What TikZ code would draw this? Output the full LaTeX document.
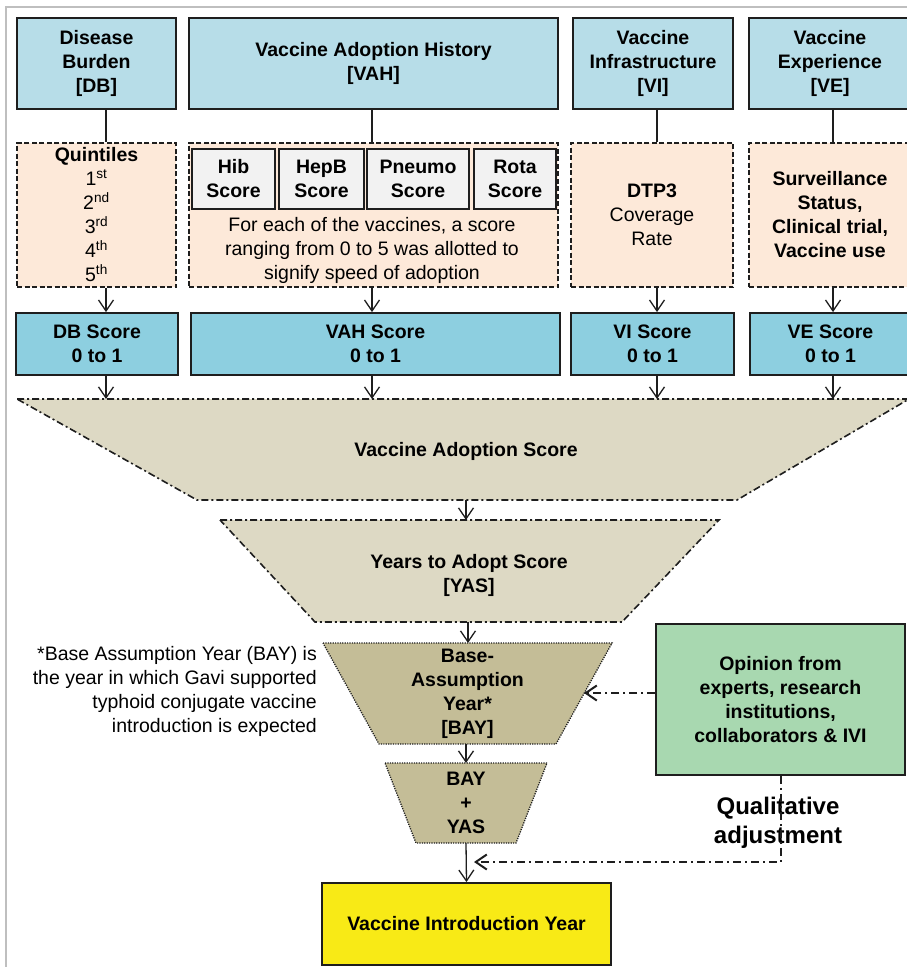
\documentclass[tikz,border=0pt]{standalone}
\usepackage{fontspec}
\setmainfont{Liberation Sans}
\usetikzlibrary{arrows.meta}

\definecolor{headblue}{HTML}{B7DDE8}
\definecolor{scoreblue}{HTML}{8DCFE0}
\definecolor{peach}{HTML}{FDE9D9}
\definecolor{subgray}{HTML}{F2F2F2}
\definecolor{tanlight}{HTML}{DDD9C4}
\definecolor{tandark}{HTML}{C4BD97}
\definecolor{opingreen}{HTML}{A8D8B0}
\definecolor{introyellow}{HTML}{F8EA16}
\definecolor{framegray}{HTML}{BFBFBF}
\definecolor{linegray}{HTML}{1E1E1E}

\newcommand{\diagfont}{\fontsize{19.5pt}{24pt}\selectfont}

\tikzset{
  headbox/.style={draw=linegray, line width=1.8pt, fill=headblue, align=center, font=\diagfont\bfseries, inner sep=0pt},
  notebox/.style={draw=linegray, line width=1.6pt, dash pattern=on 5pt off 2.5pt, fill=peach, align=center, font=\diagfont, inner sep=0pt},
  subbox/.style={draw=linegray, line width=1.8pt, fill=subgray, align=center, font=\diagfont\bfseries, inner sep=0pt},
  scorebox/.style={draw=linegray, line width=1.8pt, fill=scoreblue, align=center, font=\diagfont\bfseries, inner sep=0pt},
  conn/.style={draw=linegray, line width=1.3pt},
  funnel/.style={draw=linegray, line width=1.6pt, dash pattern=on 7pt off 3pt on 2pt off 3pt},
  dotfunnel/.style={draw=linegray, line width=1.3pt, dash pattern=on 1.2pt off 1.2pt},
  adjline/.style={draw=linegray, line width=2pt, dash pattern=on 8pt off 4pt on 2pt off 4pt},
}

\begin{document}
\begin{tikzpicture}[x=1pt, y=-1pt, >={Straight Barb[length=11pt,width=15pt]}]
  \useasboundingbox (0,0) rectangle (907,967);
  \clip (0,0) rectangle (907,967);
  \draw[framegray, line width=1.5pt] (6,967) -- (6,7) -- (907,7);

  % column lines
  \coordinate (colDB) at (106,0);
  \coordinate (colVAH) at (372,0);
  \coordinate (colVI) at (657,0);
  \coordinate (colVE) at (833,0);

  % header boxes
  \node[headbox, minimum width=159pt, minimum height=91pt] (db) at (96.5,63.5) {Disease\\Burden\\{[DB]}};
  \node[headbox, minimum width=369pt, minimum height=91pt] (vah) at (373.5,63.5) {Vaccine Adoption History\\{[VAH]}};
  \node[headbox, minimum width=160pt, minimum height=91pt] (vi) at (653,63.5) {Vaccine\\Infrastructure\\{[VI]}};
  \node[headbox, minimum width=162pt, minimum height=91pt] (ve) at (830,63.5) {Vaccine\\Experience\\{[VE]}};

  % dashed detail boxes
  \node[notebox, minimum width=159pt, minimum height=144pt] (dbq) at (96.5,215)
    {\textbf{Quintiles}\\1\textsuperscript{st}\\2\textsuperscript{nd}\\3\textsuperscript{rd}\\4\textsuperscript{th}\\5\textsuperscript{th}};
  \node[notebox, minimum width=369pt, minimum height=144pt] (vahq) at (373.5,215) {};
  \node[notebox, minimum width=162pt, minimum height=144pt] (viq) at (652,215) {\textbf{DTP3}\\Coverage\\Rate};
  \node[notebox, minimum width=162pt, minimum height=144pt, font=\diagfont\bfseries] (veq) at (830,215)
    {Surveillance\\Status,\\Clinical trial,\\Vaccine use};

  \node[subbox, minimum width=83pt, minimum height=60pt] (hib) at (233.5,179) {Hib\\Score};
  \node[subbox, minimum width=85pt, minimum height=60pt] (hepb) at (321.5,179) {HepB\\Score};
  \node[subbox, minimum width=102pt, minimum height=60pt] (pneumo) at (418,179) {Pneumo\\Score};
  \node[subbox, minimum width=82pt, minimum height=60pt] (rota) at (515,179) {Rota\\Score};
  \node[align=center, font=\diagfont, inner sep=0pt] (vahtext) at (372,250)
    {For each of the vaccines, a score\\ranging from 0 to 5 was allotted to\\signify speed of adoption};

  % score boxes
  \node[scorebox, minimum width=162pt, minimum height=62pt] (dbs) at (97,344) {DB Score\\0 to 1};
  \node[scorebox, minimum width=369pt, minimum height=62pt] (vahs) at (375.5,344) {VAH Score\\0 to 1};
  \node[scorebox, minimum width=163pt, minimum height=62pt] (vis) at (652.5,344) {VI Score\\0 to 1};
  \node[scorebox, minimum width=161pt, minimum height=62pt] (ves) at (830.5,344) {VE Score\\0 to 1};

  \draw[conn] (db.south -| colDB) -- (dbq.north -| colDB);
  \draw[conn] (vah.south -| colVAH) -- (vahq.north -| colVAH);
  \draw[conn] (vi.south -| colVI) -- (viq.north -| colVI);
  \draw[conn] (ve.south -| colVE) -- (veq.north -| colVE);

  \draw[conn,->] (dbq.south -| colDB) -- (dbs.north -| colDB);
  \draw[conn,->] (vahq.south -| colVAH) -- (vahs.north -| colVAH);
  \draw[conn,->] (viq.south -| colVI) -- (vis.north -| colVI);
  \draw[conn,->] (veq.south -| colVE) -- (ves.north -| colVE);

  % funnel
  \filldraw[funnel, fill=tanlight] (17,399) -- (909,399) -- (737,500) -- (197,500) -- cycle;
  \filldraw[funnel, fill=tanlight] (220,520) -- (719,520) -- (622,622) -- (315,622) -- cycle;
  \filldraw[dotfunnel, fill=tandark] (323,643) -- (612,643) -- (556,744) -- (379,744) -- cycle;
  \filldraw[dotfunnel, fill=tandark] (385,763) -- (547,763) -- (516,843) -- (416,843) -- cycle;

  \coordinate (vastop) at (466,399);
  \coordinate (vasbot) at (466,500);
  \coordinate (yastop) at (466,520);
  \coordinate (yasbot) at (468,622);
  \coordinate (baytop) at (468,643);
  \coordinate (baybot) at (466,744);
  \coordinate (bystop) at (466,763);
  \coordinate (bysbot) at (466,843);

  \node[font=\diagfont\bfseries] (vas) at (466,451) {Vaccine Adoption Score};
  \node[font=\diagfont\bfseries, align=center] (yas) at (469,575) {Years to Adopt Score\\{[YAS]}};
  \node[font=\diagfont\bfseries, align=center] (bay) at (467.5,694) {Base-\\Assumption\\Year*\\{[BAY]}};
  \node[font=\diagfont\bfseries, align=center] (bys) at (466,803) {BAY\\+\\YAS};

  \draw[conn,->] (dbs.south -| colDB) -- (vastop -| colDB);
  \draw[conn,->] (vahs.south -| colVAH) -- (vastop -| colVAH);
  \draw[conn,->] (vis.south -| colVI) -- (vastop -| colVI);
  \draw[conn,->] (ves.south -| colVE) -- (vastop -| colVE);

  \draw[conn,->] (vasbot) -- (yastop);
  \draw[conn,->] (yasbot) -- (baytop);
  \draw[conn,->] (baybot) -- (bystop);

  \node[draw=linegray, line width=1.8pt, fill=introyellow, minimum width=289pt, minimum height=82pt, font=\diagfont\bfseries] (viy) at (466.5,924) {Vaccine Introduction Year};
  \draw[conn,->] (bysbot) -- (viy.north);

  % footnote
  \node[anchor=east, align=right, font=\diagfont, inner sep=0pt] (note) at (317,691)
    {*Base Assumption Year (BAY) is\\the year in which Gavi supported\\typhoid conjugate vaccine\\introduction is expected};

  % expert opinion
  \node[draw=linegray, line width=1.8pt, fill=opingreen, minimum width=249pt, minimum height=151pt, align=center, font=\diagfont\bfseries] (opin) at (780.5,699.5)
    {Opinion from\\experts, research\\institutions,\\collaborators \& IVI};
  \node[font=\fontsize{24pt}{29pt}\selectfont\bfseries, align=center] (qual) at (778,822.5) {Qualitative\\adjustment};

  \coordinate (bayside) at (584,693);
  \coordinate (adjend) at (474,862);
  \draw[adjline,->] ([yshift=6.5pt]opin.west) -- (bayside);
  \draw[adjline,->] (opin.south) |- (adjend);
\end{tikzpicture}
\end{document}
